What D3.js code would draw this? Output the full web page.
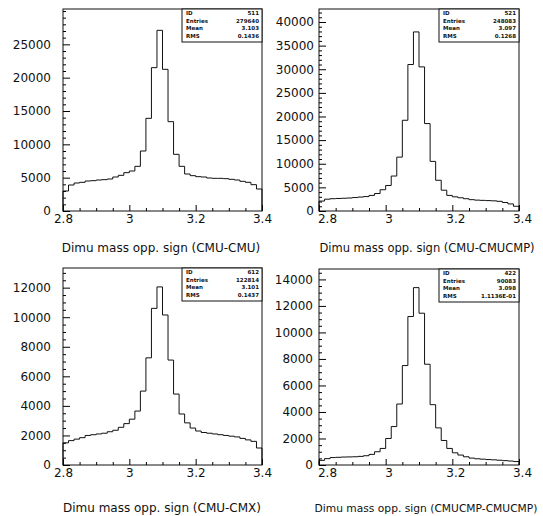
<!DOCTYPE html>
<html>
<head>
<meta charset="utf-8">
<script src="https://cdn.jsdelivr.net/npm/d3@7"></script>
<style>
  html, body { margin: 0; padding: 0; background: #fff; }
  svg { display: block; }
  text { font-family: "DejaVu Sans", sans-serif; fill: #111; }
</style>
</head>
<body>
<svg id="chart" width="543" height="516"></svg>
<script>
// Dimuon invariant mass, opposite-sign pairs, 2.8-3.4 GeV in 36 bins
const massRange = [2.8, 3.4];
const nBins = 36;

// Entries per bin for each muon-chamber pairing
const cmuCmu = [3000, 3900, 4200, 4300, 4500, 4550, 4650, 4700, 4800, 5100, 5350, 5750,
                6000, 6700, 9000, 13900, 21500, 27100, 21250, 13400, 8500, 6700, 5550, 5300,
                5150, 5100, 4950, 4900, 4900, 4850, 4750, 4650, 4450, 4300, 3950, 3300];
const cmuCmucmp = [2100, 2500, 2600, 2650, 2700, 2750, 2850, 2950, 3050, 3300, 3700, 4500,
                   5400, 7400, 11400, 19200, 31000, 37900, 30500, 18500, 10500, 6500, 4400, 3300,
                   3000, 2800, 2600, 2400, 2300, 2250, 2200, 2150, 2050, 1800, 1500, 1000];
const cmuCmx = [1500, 1650, 1750, 1850, 2000, 2050, 2100, 2150, 2250, 2350, 2550, 2800,
                3100, 3650, 5000, 7250, 10600, 12050, 10150, 7100, 4800, 3450, 2850, 2500,
                2300, 2200, 2150, 2100, 2050, 2000, 1950, 1900, 1800, 1700, 1600, 1150];
const cmucmpCmucmp = [350, 480, 560, 580, 600, 610, 620, 650, 700, 800, 1000, 1250,
                      2000, 2900, 4600, 7500, 11200, 13380, 11450, 7600, 4550, 2800, 1850, 1250,
                      920, 750, 620, 520, 470, 440, 410, 390, 360, 330, 300, 260];

// Axis titles
const titles = [
  "Dimu mass opp. sign (CMU-CMU)",
  "Dimu mass opp. sign (CMU-CMUCMP)",
  "Dimu mass opp. sign (CMU-CMX)",
  "Dimu mass opp. sign (CMUCMP-CMUCMP)"
];

// Tick values
const xMajorTicks = [2.8, 3.0, 3.2, 3.4];
const xTickLabels = ["2.8", "3", "3.2", "3.4"];
const xMinorTicks = [2.85, 2.9, 2.95, 3.05, 3.1, 3.15, 3.25, 3.3, 3.35];
const yTicks1 = [0, 5000, 10000, 15000, 20000, 25000];
const yTicks2 = [0, 5000, 10000, 15000, 20000, 25000, 30000, 35000, 40000];
const yTicks3 = [0, 2000, 4000, 6000, 8000, 10000, 12000];
const yTicks4 = [0, 2000, 4000, 6000, 8000, 10000, 12000, 14000];
const yMinorStep = [1000, 1000, 500, 500];

// Statistics boxes
const statLabels = ["ID", "Entries", "Mean", "RMS"];
const statValues = [
  ["511", "279640", "3.103", "0.1436"],
  ["521", "248083", "3.097", "0.1268"],
  ["612", "122814", "3.101", "0.1437"],
  ["422", "90083", "3.098", "1.1136E-01"]
];

// Panel geometry
const panels = [
  { values: cmuCmu,       yTicks: yTicks1, yTop: 30300, x0: 63,  x1: 262, y0: 9,   y1: 211, labelPad: 12, xFirstShift: 0, xLabelShift: 0, titleX: 161, titleY: 252, titleSize: 12 },
  { values: cmuCmucmp,    yTicks: yTicks2, yTop: 42750, x0: 319, x1: 519, y0: 9,   y1: 211, labelPad: 5,  xFirstShift: 8, xLabelShift: 3, titleX: 427, titleY: 252, titleSize: 11.5 },
  { values: cmuCmx,       yTicks: yTicks3, yTop: 13330, x0: 63,  x1: 262, y0: 268, y1: 465, labelPad: 12, xFirstShift: 0, xLabelShift: 0, titleX: 162, titleY: 512, titleSize: 12 },
  { values: cmucmpCmucmp, yTicks: yTicks4, yTop: 14785, x0: 319, x1: 519, y0: 269, y1: 465, labelPad: 6,  xFirstShift: 8, xLabelShift: 3, titleX: 426, titleY: 512, titleSize: 10.7 }
];

const svg = d3.select("#chart");
const binWidth = (massRange[1] - massRange[0]) / nBins;

panels.forEach((p, i) => {
  const x = d3.scaleLinear().domain(massRange).range([p.x0, p.x1]);
  const y = d3.scaleLinear().domain([0, p.yTop]).range([p.y1, p.y0]);
  const g = svg.append("g");

  // Frame
  g.append("rect")
    .attr("x", p.x0).attr("y", p.y0)
    .attr("width", p.x1 - p.x0).attr("height", p.y1 - p.y0)
    .attr("fill", "none").attr("stroke", "#111").attr("stroke-width", 1);

  // Y axis: labelled major ticks and minor ticks, both pointing inward
  const yMinor = d3.range(0, p.yTop, yMinorStep[i]).filter(v => !p.yTicks.includes(v));
  g.append("g")
    .attr("transform", `translate(${p.x0},0)`)
    .call(d3.axisLeft(y).tickValues(yMinor).tickSize(-3).tickFormat(""))
    .call(a => a.select(".domain").remove());
  g.append("g")
    .attr("transform", `translate(${p.x0},0)`)
    .call(d3.axisLeft(y).tickValues(p.yTicks).tickSize(-7).tickPadding(p.labelPad).tickFormat(d3.format("d")))
    .call(a => a.select(".domain").remove())
    .call(a => a.selectAll("text").attr("font-size", 12).attr("font-family", "DejaVu Sans, sans-serif"));

  // X axis
  g.append("g")
    .attr("transform", `translate(0,${p.y1})`)
    .call(d3.axisBottom(x).tickValues(xMinorTicks).tickSize(-3).tickFormat(""))
    .call(a => a.select(".domain").remove());
  g.append("g")
    .attr("transform", `translate(0,${p.y1})`)
    .call(d3.axisBottom(x).tickValues(xMajorTicks).tickSize(-6).tickPadding(3)
      .tickFormat((d, k) => xTickLabels[k]))
    .call(a => a.select(".domain").remove())
    .call(a => a.selectAll("text")
      .attr("font-size", 12).attr("font-family", "DejaVu Sans, sans-serif")
      .attr("dx", (d, k) => (k === 0 ? p.xFirstShift : p.xLabelShift)));

  // Histogram outline
  const pts = [[massRange[0], 0]];
  p.values.forEach((v, k) => {
    const lo = massRange[0] + k * binWidth;
    pts.push([lo, v], [lo + binWidth, v]);
  });
  pts.push([massRange[1], 0]);
  g.append("path")
    .attr("d", d3.line().x(d => x(d[0])).y(d => y(d[1]))(pts))
    .attr("fill", "none").attr("stroke", "#111").attr("stroke-width", 1);

  // Statistics box
  const bx0 = p.x1 - 80, bx1 = p.x1, by0 = p.y0, by1 = p.y0 + 33;
  const sb = g.append("g");
  sb.append("rect")
    .attr("x", bx0).attr("y", by0).attr("width", bx1 - bx0).attr("height", by1 - by0)
    .attr("fill", "#fff").attr("stroke", "#111").attr("stroke-width", 1);
  statLabels.forEach((lab, r) => {
    const ty = by0 + 6 + r * 7.7;
    sb.append("text").attr("x", bx0 + 4).attr("y", ty)
      .attr("font-size", 5.5).attr("font-weight", "bold").text(lab);
    sb.append("text").attr("x", bx1 - 3).attr("y", ty)
      .attr("text-anchor", "end").attr("font-size", 5.5).attr("font-weight", "bold")
      .text(statValues[i][r]);
  });

  // Title under the axis
  g.append("text")
    .attr("x", p.titleX).attr("y", p.titleY)
    .attr("text-anchor", "middle").attr("font-size", p.titleSize)
    .text(titles[i]);
});
</script>
</body>
</html>
